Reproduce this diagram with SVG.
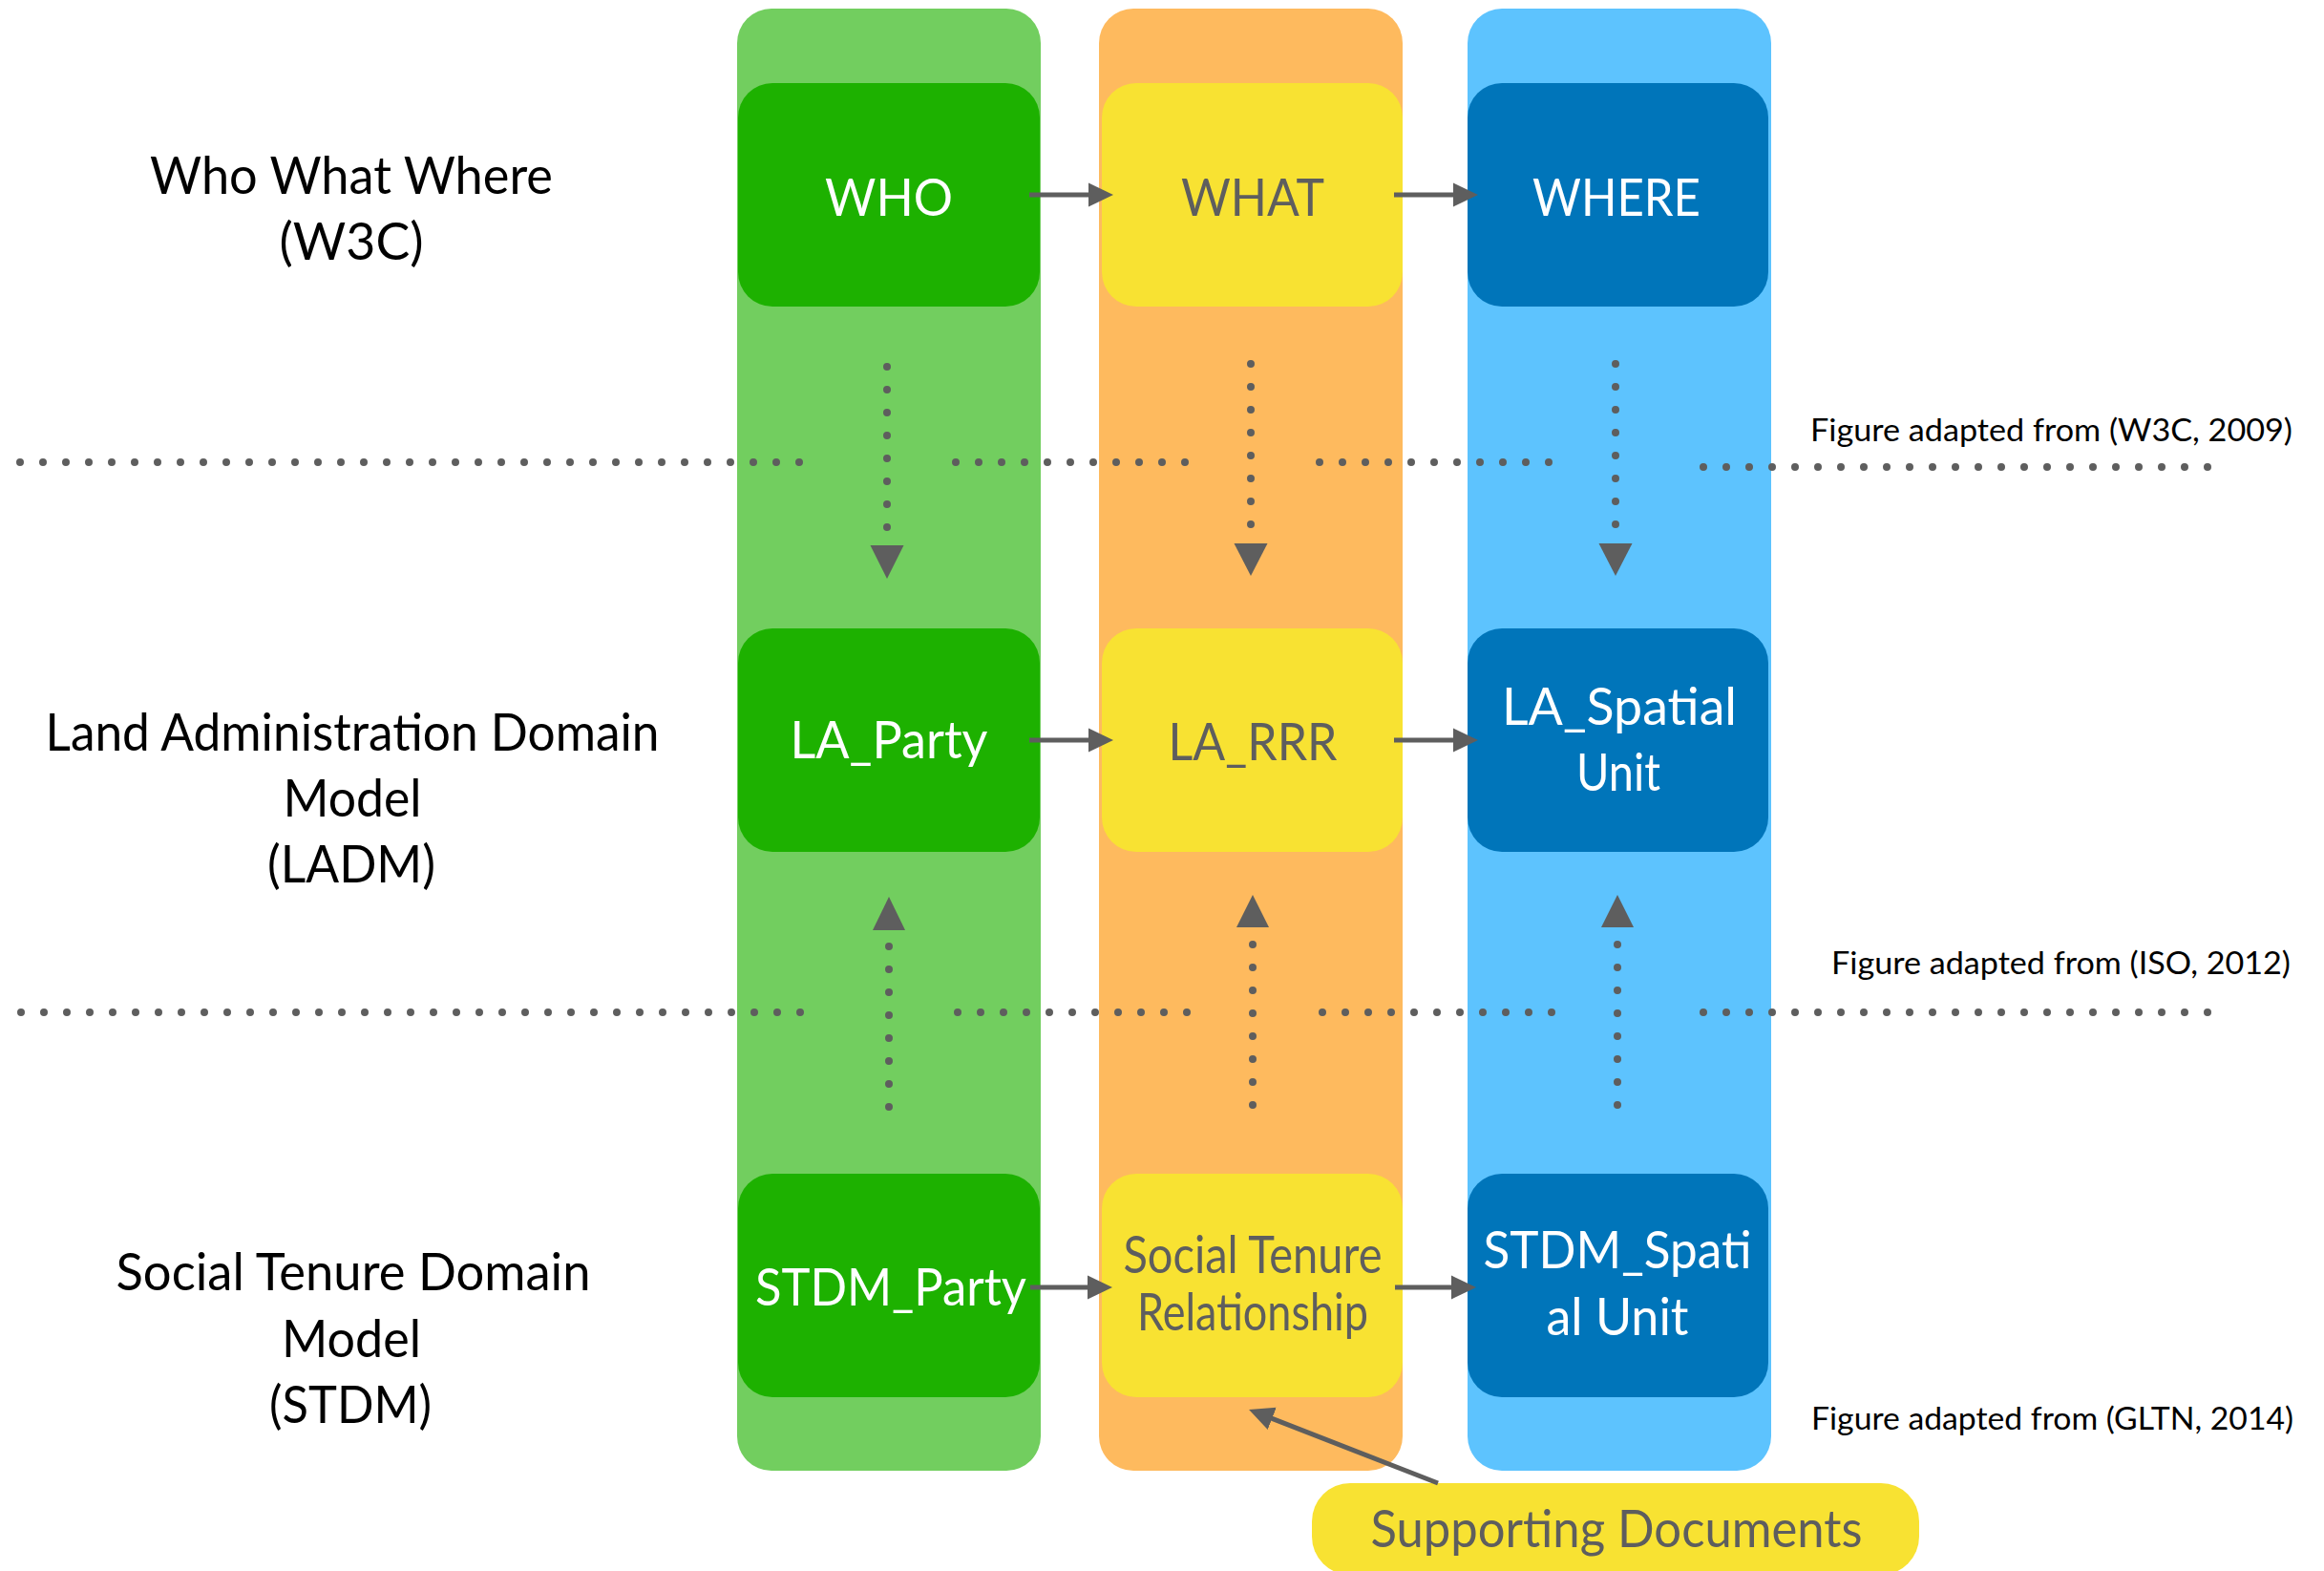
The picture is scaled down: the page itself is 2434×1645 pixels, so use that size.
<svg xmlns="http://www.w3.org/2000/svg" width="2434" height="1645" viewBox="0 0 2434 1645">
  <style>
    text { font-family: "Lato", "Liberation Sans", sans-serif; text-anchor: middle; }
    .lbl { font-size: 54px; fill: #000000; }
    .src { font-size: 32px; fill: #000000; text-anchor: end; }
    .nt { font-size: 54px; fill: #ffffff; }
    .ng { font-size: 54px; fill: #5e5e5e; }
    .colG { fill: #72ce5f; }
    .colO { fill: #feba5e; }
    .colB { fill: #5dc3fe; }
    .nG { fill: #1db100; }
    .nY { fill: #f8e232; }
    .nB { fill: #0075ba; }
    .dots { stroke: #5e5e5e; stroke-width: 8; stroke-linecap: round; stroke-dasharray: 0 24; fill: none; }
    .arr { stroke: #5e5e5e; stroke-width: 5; fill: none; marker-end: url(#head); }
    .tri { fill: #5e5e5e; }
  </style>
  <defs>
    <marker id="head" markerUnits="userSpaceOnUse" markerWidth="26" markerHeight="26" refX="2" refY="12.5" orient="auto" viewBox="0 0 26 25">
      <path d="M0,0 L26,12.5 L0,25 z" fill="#5e5e5e"/>
    </marker>
  </defs>

  <rect width="2434" height="1645" fill="#ffffff"/>

  <!-- column backgrounds -->
  <g id="columns">
    <rect class="colG" x="772" y="9" width="318" height="1531" rx="36"/>
    <rect class="colO" x="1151" y="9" width="318" height="1531" rx="36"/>
    <rect class="colB" x="1537" y="9" width="318" height="1531" rx="36"/>
  </g>

  <!-- row titles -->
  <g id="row-w3c">
    <text class="lbl" x="368" y="203" textLength="422" lengthAdjust="spacingAndGlyphs">Who What Where</text>
    <text class="lbl" x="368" y="272" textLength="151" lengthAdjust="spacingAndGlyphs">(W3C)</text>
  </g>
  <g id="row-ladm">
    <text class="lbl" x="369" y="786" textLength="643" lengthAdjust="spacingAndGlyphs">Land Administration Domain</text>
    <text class="lbl" x="369" y="855" textLength="145" lengthAdjust="spacingAndGlyphs">Model</text>
    <text class="lbl" x="368" y="924" textLength="176" lengthAdjust="spacingAndGlyphs">(LADM)</text>
  </g>
  <g id="row-stdm">
    <text class="lbl" x="370" y="1351" textLength="497" lengthAdjust="spacingAndGlyphs">Social Tenure Domain</text>
    <text class="lbl" x="368" y="1421" textLength="146" lengthAdjust="spacingAndGlyphs">Model</text>
    <text class="lbl" x="367" y="1490" textLength="170" lengthAdjust="spacingAndGlyphs">(STDM)</text>
  </g>

  <!-- source notes -->
  <g id="sources">
    <text class="src" x="2401" y="462" textLength="505" lengthAdjust="spacingAndGlyphs">Figure adapted from (W3C, 2009)</text>
    <text class="src" x="2399" y="1020" textLength="481" lengthAdjust="spacingAndGlyphs">Figure adapted from (ISO, 2012)</text>
    <text class="src" x="2402" y="1497" textLength="505" lengthAdjust="spacingAndGlyphs">Figure adapted from (GLTN, 2014)</text>
  </g>

  <!-- nodes -->
  <g id="who">
    <rect class="nG" x="773" y="87" width="316" height="234" rx="36"/>
    <text class="nt" x="931" y="226" textLength="134" lengthAdjust="spacingAndGlyphs">WHO</text>
  </g>
  <g id="what">
    <rect class="nY" x="1154" y="87" width="315" height="234" rx="36"/>
    <text class="ng" x="1312" y="226" textLength="150" lengthAdjust="spacingAndGlyphs">WHAT</text>
  </g>
  <g id="where">
    <rect class="nB" x="1537" y="87" width="315" height="234" rx="36"/>
    <text class="nt" x="1693" y="226" textLength="176" lengthAdjust="spacingAndGlyphs">WHERE</text>
  </g>

  <g id="la-party">
    <rect class="nG" x="773" y="658" width="316" height="234" rx="36"/>
    <text class="nt" x="931" y="794" textLength="207" lengthAdjust="spacingAndGlyphs">LA_Party</text>
  </g>
  <g id="la-rrr">
    <rect class="nY" x="1154" y="658" width="315" height="234" rx="36"/>
    <text class="ng" x="1312" y="796" textLength="177" lengthAdjust="spacingAndGlyphs">LA_RRR</text>
  </g>
  <g id="la-spatial-unit">
    <rect class="nB" x="1537" y="658" width="315" height="234" rx="36"/>
    <text class="nt" x="1696" y="759" textLength="246" lengthAdjust="spacingAndGlyphs">LA_Spatial</text>
    <text class="nt" x="1695" y="828" textLength="88" lengthAdjust="spacingAndGlyphs">Unit</text>
  </g>

  <g id="stdm-party">
    <rect class="nG" x="773" y="1229" width="316" height="234" rx="36"/>
    <text class="nt" x="933" y="1367" textLength="284" lengthAdjust="spacingAndGlyphs">STDM_Party</text>
  </g>
  <g id="social-tenure-relationship">
    <rect class="nY" x="1154" y="1229" width="315" height="234" rx="36"/>
    <text class="ng" x="1312" y="1333" textLength="271" lengthAdjust="spacingAndGlyphs">Social Tenure</text>
    <text class="ng" x="1312" y="1393" textLength="242" lengthAdjust="spacingAndGlyphs">Relationship</text>
  </g>
  <g id="stdm-spatial-unit">
    <rect class="nB" x="1537" y="1229" width="315" height="234" rx="36"/>
    <text class="nt" x="1694" y="1328" textLength="281" lengthAdjust="spacingAndGlyphs">STDM_Spati</text>
    <text class="nt" x="1694" y="1398" textLength="149" lengthAdjust="spacingAndGlyphs">al Unit</text>
  </g>

  <g id="supporting-documents">
    <rect class="nY" x="1374" y="1553" width="636" height="96" rx="40"/>
    <text class="ng" x="1693" y="1620" textLength="515" lengthAdjust="spacingAndGlyphs">Supporting Documents</text>
  </g>

  <!-- separators and connectors, drawn over the boxes -->
  <g id="connectors">
    <!-- dotted row separators -->
    <line class="dots" x1="21" y1="484" x2="838" y2="484"/>
    <line class="dots" x1="1001" y1="484" x2="1242" y2="484"/>
    <line class="dots" x1="1382" y1="484" x2="1623" y2="484"/>
    <line class="dots" x1="1784" y1="489" x2="2313" y2="489"/>
    <line class="dots" x1="22" y1="1060" x2="839" y2="1060"/>
    <line class="dots" x1="1003" y1="1060" x2="1244" y2="1060"/>
    <line class="dots" x1="1385" y1="1060" x2="1626" y2="1060"/>
    <line class="dots" x1="1784" y1="1060" x2="2313" y2="1060"/>

    <!-- dotted mappings W3C -> LADM -->
    <line class="dots" x1="929" y1="384" x2="929" y2="553"/>
    <polygon class="tri" points="911.5,571 946.5,571 929,606"/>
    <line class="dots" x1="1310" y1="381" x2="1310" y2="550"/>
    <polygon class="tri" points="1292.5,569 1327.5,569 1310,603"/>
    <line class="dots" x1="1692" y1="381" x2="1692" y2="550"/>
    <polygon class="tri" points="1674.5,569 1709.5,569 1692,603"/>

    <!-- dotted mappings STDM -> LADM -->
    <line class="dots" x1="931" y1="1159" x2="931" y2="990"/>
    <polygon class="tri" points="914,974 948,974 931,939"/>
    <line class="dots" x1="1312" y1="1157" x2="1312" y2="988"/>
    <polygon class="tri" points="1295,971 1329,971 1312,937"/>
    <line class="dots" x1="1694" y1="1157" x2="1694" y2="988"/>
    <polygon class="tri" points="1677,971 1711,971 1694,937"/>

    <!-- solid relations -->
    <line class="arr" x1="1078" y1="204" x2="1142" y2="204"/>
    <line class="arr" x1="1460" y1="204" x2="1524" y2="204"/>
    <line class="arr" x1="1078" y1="775" x2="1142" y2="775"/>
    <line class="arr" x1="1460" y1="775" x2="1524" y2="775"/>
    <line class="arr" x1="1079" y1="1348" x2="1141" y2="1348"/>
    <line class="arr" x1="1461" y1="1348" x2="1522" y2="1348"/>
    <line class="arr" x1="1506" y1="1553" x2="1330.4" y2="1484.7"/>
  </g>
</svg>
